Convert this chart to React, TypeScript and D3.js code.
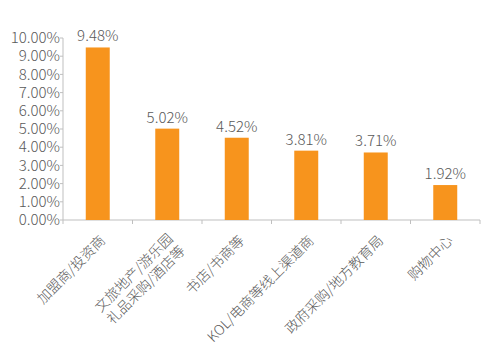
import React from "react";
import * as d3 from "d3";

const categories: string[][] = [
  ["加盟商/投资商"],
  ["文旅地产/游乐园", "礼品采购/酒店等"],
  ["书店/书商等"],
  ["KOL/电商等线上渠道商"],
  ["政府采购/地方教育局"],
  ["购物中心"],
];
const values: number[] = [9.48, 5.02, 4.52, 3.81, 3.71, 1.92];
const yTicks: number[] = [0, 1, 2, 3, 4, 5, 6, 7, 8, 9, 10];

const W = 503;
const H = 357;
const left = 63;
const right = 480;
const top = 38;
const bottom = 220;
const font = "'Noto Sans CJK SC', sans-serif";
const textColor = "#595959";
const axisColor = "#bfbfbf";
const barColor = "#F7941D";

export default function App() {
  const x = d3
    .scaleBand<number>()
    .domain(d3.range(categories.length))
    .range([left, right])
    .paddingInner(0.655)
    .paddingOuter(0.3275);
  const band = d3.scaleBand<number>().domain(d3.range(categories.length)).range([left, right]);
  const y = d3.scaleLinear().domain([0, 10]).range([bottom, top]);

  return (
    <svg
      width={W}
      height={H}
      style={{ position: "absolute", left: 0, top: 0, background: "#fff" }}
      fontFamily={font}
    >
      <line x1={left} x2={left} y1={y(10)} y2={y(0)} stroke={axisColor} strokeWidth={1} />
      {yTicks.map((t) => (
        <g key={t}>
          <line x1={left - 3} x2={left} y1={y(t)} y2={y(t)} stroke={axisColor} />
          <text
            x={left - 3}
            y={y(t)}
            dy="0.35em"
            textAnchor="end"
            fontSize={15}
            fill={textColor}
            fontWeight={300}
          >
            {t.toFixed(2) + "%"}
          </text>
        </g>
      ))}
      <line x1={left} x2={right} y1={y(0)} y2={y(0)} stroke={axisColor} strokeWidth={1} />
      {d3.range(categories.length + 1).map((i) => {
        const xx = left + i * band.bandwidth();
        return <line key={i} x1={xx} x2={xx} y1={y(0)} y2={y(0) + 4} stroke={axisColor} />;
      })}
      {values.map((v, i) => (
        <g key={i}>
          <rect x={x(i)!} y={y(v)} width={x.bandwidth()} height={y(0) - y(v)} fill={barColor} />
          <text
            x={x(i)! + x.bandwidth() / 2}
            y={y(v) - 6}
            textAnchor="middle"
            fontSize={15}
            fill={textColor}
            fontWeight={300}
          >
            {v.toFixed(2) + "%"}
          </text>
        </g>
      ))}
      {categories.map((lines, i) => {
        const cx = band(i)! + band.bandwidth() / 2;
        const n = lines.length;
        return (
          <g key={i} transform={`translate(${cx + 5},${238}) rotate(-45)`}>
            {lines.map((ln, j) => (
              <text
                key={j}
                x={0}
                y={(j - (n - 1) / 2) * 17 + (n > 1 ? 6 : 0)}
                dy="0.35em"
                textAnchor="end"
                fontSize={14}
                fill={textColor}
                fontWeight={300}
              >
                {ln}
              </text>
            ))}
          </g>
        );
      })}
    </svg>
  );
}
